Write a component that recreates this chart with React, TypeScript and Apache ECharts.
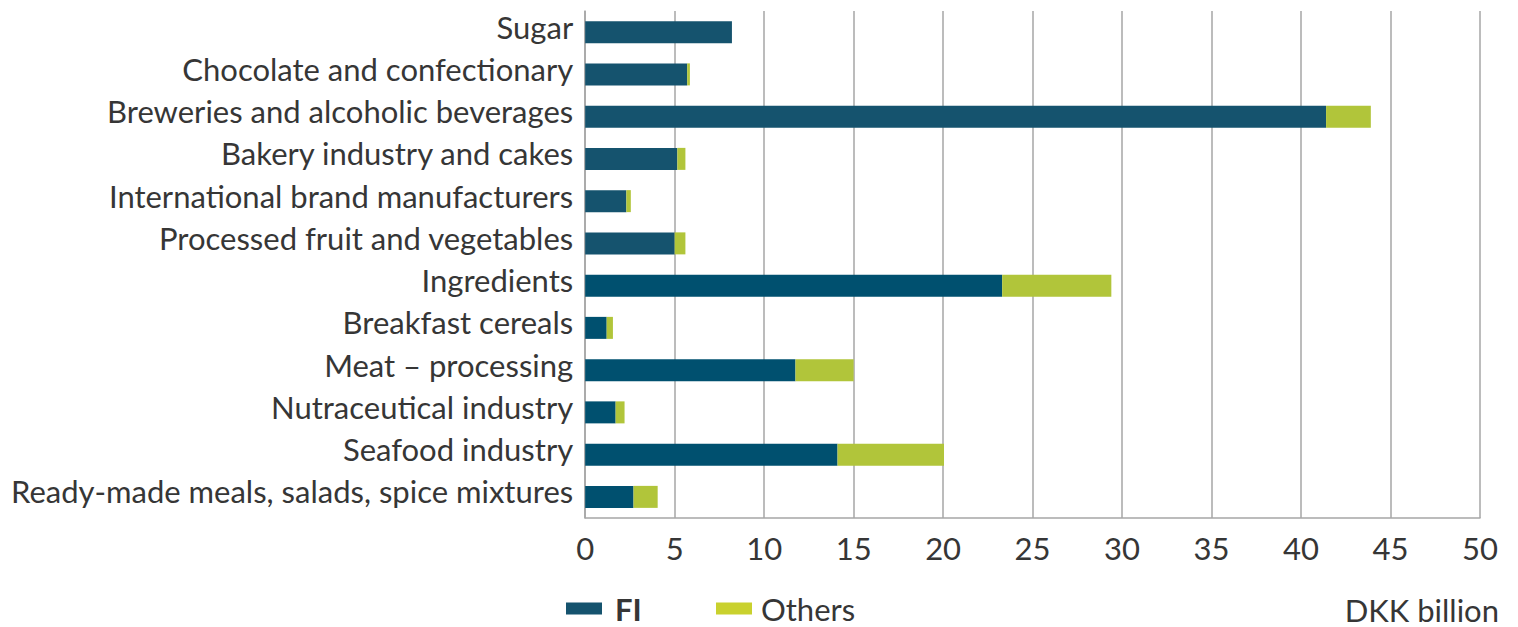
import React, { useEffect, useRef } from "react";
import * as echarts from "echarts";

const categories = [
  "Sugar",
  "Chocolate and confectionary",
  "Breweries and alcoholic beverages",
  "Bakery industry and cakes",
  "International brand manufacturers",
  "Processed fruit and vegetables",
  "Ingredients",
  "Breakfast cereals",
  "Meat – processing",
  "Nutraceutical industry",
  "Seafood industry",
  "Ready-made meals, salads, spice mixtures",
];
const fiValues = [8.2, 5.7, 41.4, 5.15, 2.3, 5.0, 23.3, 1.2, 11.75, 1.7, 14.1, 2.7];
const othersValues = [0, 0.15, 2.5, 0.45, 0.25, 0.6, 6.1, 0.35, 3.25, 0.5, 5.95, 1.35];
const xTicks = { min: 0, max: 50, interval: 5 };

const FI_TOP = "#15536E";
const FI_BOTTOM = "#00506F";
const OTHERS = "#B1C53A";
const OTHERS_LEGEND = "#C9D12E";
const TEXT = "#363636";
const FONT = "Lato";
const FS = 31;

export default function App() {
  const ref = useRef<HTMLDivElement>(null);
  useEffect(() => {
    if (!ref.current) return;
    const chart = echarts.init(ref.current, undefined, { renderer: "svg" });
    chart.setOption({
      animation: false,
      textStyle: { fontFamily: FONT, color: TEXT },
      grid: { left: 577, right: 38, top: 3, bottom: 109, containLabel: false },
      xAxis: {
        type: "value",
        min: xTicks.min,
        max: xTicks.max,
        interval: xTicks.interval,
        axisLine: { show: true, lineStyle: { color: "#a6a6a6", width: 1.5 } },
        axisTick: { show: false },
        splitLine: { show: true, lineStyle: { color: "#a6a6a6", width: 1.5 } },
        axisLabel: { color: TEXT, fontSize: FS, fontFamily: FONT, margin: 14 },
      },
      yAxis: {
        type: "category",
        inverse: true,
        data: categories,
        axisLine: { show: true, lineStyle: { color: "#a6a6a6", width: 1.5 } },
        axisTick: { show: false },
        axisLabel: {
          margin: 12,
          formatter: (v: string) => "{c|" + v + "}",
          rich: {
            c: {
              color: TEXT,
              fontSize: FS,
              fontFamily: FONT,
              padding: [0, 0, 11, 0],
            },
          },
        },
      },
      legend: [
        {
          left: 558,
          top: 585,
          padding: 0,
          itemWidth: 36,
          itemHeight: 12,
          icon: "rect",
          selectedMode: false,
          data: [
            {
              name: "FI",
              itemStyle: { color: FI_TOP },
              textStyle: {
                fontWeight: "bold",
                fontSize: FS,
                lineHeight: 30,
                color: TEXT,
                padding: [0, 0, 0, 8],
              },
            },
          ],
          textStyle: { fontFamily: FONT, color: TEXT, fontSize: FS, lineHeight: 30 },
        },
        {
          left: 708,
          top: 585,
          padding: 0,
          itemWidth: 36,
          itemHeight: 12,
          icon: "rect",
          selectedMode: false,
          data: [
            {
              name: "Others",
              itemStyle: { color: OTHERS_LEGEND },
              textStyle: { fontSize: FS, lineHeight: 30, color: TEXT, padding: [0, 0, 0, 4] },
            },
          ],
          textStyle: { fontFamily: FONT, color: TEXT, fontSize: FS, lineHeight: 30 },
        },
      ],
      graphic: [
        {
          type: "text",
          right: 19,
          top: 586,
          style: { text: "DKK billion", fill: TEXT, fontSize: FS, fontFamily: FONT },
        },
      ],
      series: [
        {
          name: "FI",
          type: "bar",
          stack: "total",
          barWidth: 22,
          itemStyle: { color: FI_TOP },
          data: fiValues.map((v, i) => ({
            value: v,
            itemStyle: { color: i < 6 ? FI_TOP : FI_BOTTOM },
          })),
        },
        {
          name: "Others",
          type: "bar",
          stack: "total",
          barWidth: 22,
          itemStyle: { color: OTHERS },
          data: othersValues,
        },
      ],
    });
    return () => chart.dispose();
  }, []);
  return <div ref={ref} style={{ width: 1510, height: 619 }} />;
}
